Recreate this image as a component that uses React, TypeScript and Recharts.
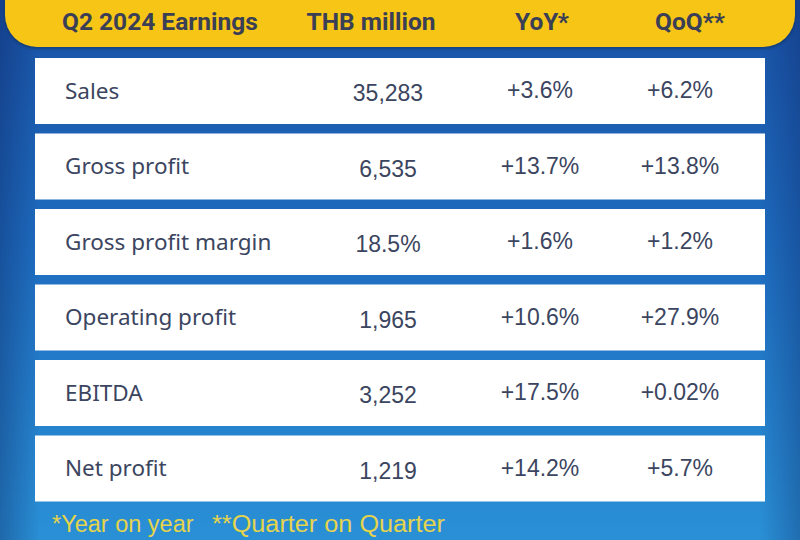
import { Bar, BarChart, LabelList, XAxis, YAxis } from "recharts"

const metrics = ["Sales", "Gross profit", "Gross profit margin", "Operating profit", "EBITDA", "Net profit"]
const amounts = ["35,283", "6,535", "18.5%", "1,965", "3,252", "1,219"]
const yoy = ["+3.6%", "+13.7%", "+1.6%", "+10.6%", "+17.5%", "+14.2%"]
const qoq = ["+6.2%", "+13.8%", "+1.2%", "+27.9%", "+0.02%", "+5.7%"]
const headers = ["Q2 2024 Earnings", "THB million", "YoY*", "QoQ**"]
const notes = ["*Year on year", "**Quarter on Quarter"]

const rows = metrics.map((m, i) => ({ metric: m, amount: amounts[i], yoy: yoy[i], qoq: qoq[i], row: 1 }))

const W = 800
const H = 540
const ink = "#3b4560"
const sans = "'Liberation Sans', Arial, sans-serif"

// column anchors, offset from the left edge of each white row
const cols = {
  metric: { dx: 30, anchor: "start", font: "'Noto Sans', sans-serif", size: 22.5, dy: -1 },
  amount: { dx: 353, anchor: "middle", font: sans, size: 23, dy: 2 },
  yoy: { dx: 505, anchor: "middle", font: sans, size: 23, dy: -1 },
  qoq: { dx: 645, anchor: "middle", font: sans, size: 23, dy: -1 },
}

function cell(key: keyof typeof cols) {
  const c = cols[key]
  return (props: any) => {
    const { x, y, height, value } = props
    return (
      <text
        x={Number(x) + c.dx}
        y={Number(y) + Number(height) / 2 + c.dy}
        textAnchor={c.anchor as any}
        dominantBaseline="central"
        fill={ink}
        fontFamily={c.font}
        fontSize={c.size}
      >
        {value}
      </text>
    )
  }
}

const headerX = [62, 371, 542, 690]

export default function App() {
  return (
    <div
      style={{
        position: "fixed",
        left: 0,
        top: 0,
        width: W,
        height: H,
        overflow: "hidden",
        background:
          "linear-gradient(90deg, rgba(10,30,90,0.35) 0%, rgba(10,30,90,0) 5%, rgba(10,30,90,0) 95%, rgba(10,30,90,0.3) 100%), linear-gradient(180deg, #1a52a6 0%, #1e6cbf 45%, #2a90d6 100%)",
      }}
    >
      <div
        style={{
          position: "absolute",
          left: 5,
          top: -30,
          width: 790,
          height: 77,
          borderRadius: 32,
          background: "#f7c516",
          boxShadow: "0 2px 3px rgba(0,0,0,0.25)",
        }}
      />
      <svg width={W} height={50} style={{ position: "absolute", left: 0, top: 0 }}>
        {headers.map((h, i) => (
          <text
            key={h}
            x={headerX[i]}
            y={21}
            textAnchor={i === 0 ? "start" : "middle"}
            dominantBaseline="central"
            fill="#3a3f55"
            fontFamily="Roboto, sans-serif"
            fontWeight={700}
            fontSize={24.5}
          >
            {h}
          </text>
        ))}
      </svg>
      <div style={{ position: "absolute", left: 0, top: 0 }}>
        <BarChart
          width={W}
          height={H}
          data={rows}
          layout="vertical"
          margin={{ top: 53, right: 35, bottom: 34, left: 35 }}
          barSize={66}
        >
          <XAxis type="number" domain={[0, 1]} hide />
          <YAxis type="category" dataKey="metric" hide />
          <Bar dataKey="row" fill="#ffffff" isAnimationActive={false}>
            <LabelList dataKey="metric" content={cell("metric")} />
            <LabelList dataKey="amount" content={cell("amount")} />
            <LabelList dataKey="yoy" content={cell("yoy")} />
            <LabelList dataKey="qoq" content={cell("qoq")} />
          </Bar>
        </BarChart>
      </div>
      <svg width={W} height={40} style={{ position: "absolute", left: 0, top: 505 }}>
        <text x={52} y={19} dominantBaseline="central" fill="#e5d44c" fontFamily={sans} fontSize={23.5}>
          {notes[0]}
        </text>
        <text x={212} y={19} dominantBaseline="central" fill="#e5d44c" fontFamily={sans} fontSize={23.5} textLength={233} lengthAdjust="spacingAndGlyphs">
          {notes[1]}
        </text>
      </svg>
    </div>
  )
}
